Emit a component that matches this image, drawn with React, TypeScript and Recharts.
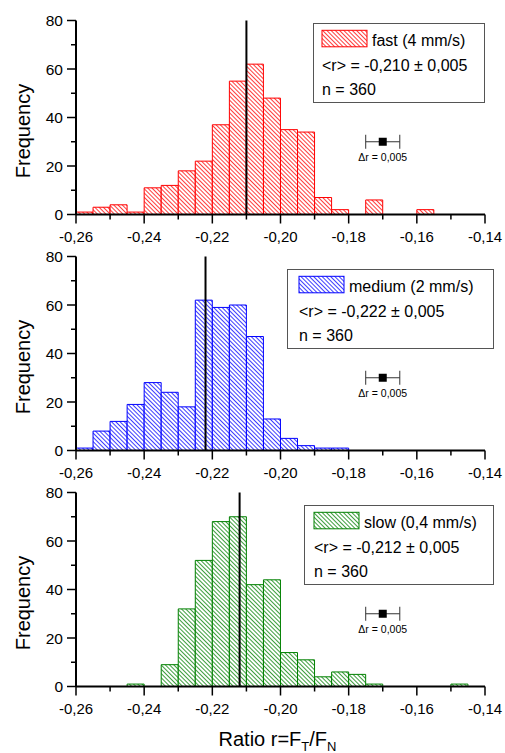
import React from 'react';
import {
  ComposedChart,
  Bar,
  XAxis,
  YAxis,
  ReferenceLine,
  Scatter,
  ErrorBar,
  Legend,
  ZAxis,
} from 'recharts';

// ---------- data ----------
const binCenters = [
  -0.2575, -0.2525, -0.2475, -0.2425, -0.2375, -0.2325, -0.2275, -0.2225,
  -0.2175, -0.2125, -0.2075, -0.2025, -0.1975, -0.1925, -0.1875, -0.1825,
  -0.1775, -0.1725, -0.1675, -0.1625, -0.1575, -0.1525, -0.1475, -0.1425,
];
const fastCounts = [1, 3, 4, 1, 11, 12, 18, 22, 37, 55, 62, 48, 35, 34, 7, 2, 0, 6, 0, 0, 2, 0, 0, 0];
const mediumCounts = [1, 8, 12, 19, 28, 24, 18, 62, 59, 60, 47, 13, 5, 2, 1, 1, 0, 0, 0, 0, 0, 0, 0, 0];
const slowCounts = [0, 0, 0, 1, 0, 9, 32, 52, 68, 70, 42, 44, 14, 11, 4, 6, 5, 1, 0, 0, 0, 0, 1, 0];

const xTicks = [-0.26, -0.25, -0.24, -0.23, -0.22, -0.21, -0.2, -0.19, -0.18, -0.17, -0.16, -0.15, -0.14];
const yTicks = [0, 10, 20, 30, 40, 50, 60, 70, 80];

const seriesNames = ['fast (4 mm/s)', 'medium (2 mm/s)', 'slow (0,4 mm/s)'];
const meanValues = [-0.21, -0.222, -0.212];
const meanLabels = ['-0,210', '-0,222', '-0,212'];
const meanError = '0,005';
const sampleSizes = [360, 360, 360];

const resolutionMarker = [{ r: -0.17, freq: 30, err: 0.005 }];
const resolutionLabel = '\u0394r = 0,005';

// ---------- styling / layout ----------
const FONT = '"Liberation Sans", Arial, Helvetica, sans-serif';
const colors = ['#ff0000', '#0000ff', '#008000'];
const keys = ['fast', 'medium', 'slow'];
const legendBoxes = [
  { left: 313, top: 22.7, width: 172, pad: 9 },
  { left: 287, top: 33.5, width: 207, pad: 12 },
  { left: 304, top: 33.5, width: 190, pad: 10 },
];
const panelTops = [0, 235.5, 471.5];
const panelHeights = [245.5, 246, 281.5];
const axisHeights = [31, 31.5, 67];

const fmtX = (v: number) => v.toFixed(2).replace('.', ',');

const XTick = (props: any) => {
  const { x, y, payload } = props;
  const v = payload.value as number;
  const major = Math.round(v * 100) % 2 === 0;
  return (
    <g>
      <line x1={x} x2={x} y1={y} y2={y + (major ? 9 : 5)} stroke="#000" strokeWidth={1.5} />
      {major && (
        <text x={x} y={y + 27.5} textAnchor="middle" fontSize={15} fontFamily={FONT} fill="#000">
          {fmtX(v)}
        </text>
      )}
    </g>
  );
};

const YTick = (props: any) => {
  const { x, y, payload } = props;
  const v = payload.value as number;
  const major = v % 20 === 0;
  return (
    <g>
      <line x1={x - (major ? 9 : 5)} x2={x} y1={y} y2={y} stroke="#000" strokeWidth={1.5} />
      {major && (
        <text x={x - 13} y={y + 5.5} textAnchor="end" fontSize={15.5} fontFamily={FONT} fill="#000">
          {v}
        </text>
      )}
    </g>
  );
};

const FreqLabel = (props: any) => {
  const vb = props.viewBox || {};
  const cx = 23;
  const cy = vb.y + vb.height / 2 + 13.5;
  return (
    <text
      x={cx}
      y={cy}
      transform={`rotate(-90, ${cx}, ${cy})`}
      textAnchor="middle"
      dominantBaseline="central"
      fontSize={20}
      fontFamily={FONT}
      fill="#000"
    >
      Frequency
    </text>
  );
};

const RatioLabel = (props: any) => {
  const vb = props.viewBox || {};
  const cx = vb.x + vb.width / 2 - 3;
  const by = vb.y + 59;
  return (
    <text x={cx} y={by} textAnchor="middle" fontSize={20} fontFamily={FONT} fill="#000">
      Ratio r=F
      <tspan fontSize={13} dy={5}>T</tspan>
      <tspan dy={-5}>/F</tspan>
      <tspan fontSize={13} dy={5}>N</tspan>
    </text>
  );
};

const MarkerShape = (props: any) => {
  const { cx, cy } = props;
  return (
    <g>
      <rect x={cx - 4} y={cy - 4} width={8} height={8} fill="#000" />
      <text x={cx} y={cy + 19.5} textAnchor="middle" fontSize={10.5} fontFamily={FONT} fill="#000">
        {resolutionLabel}
      </text>
    </g>
  );
};

const makeLegend = (i: number) => () => {
  const b = legendBoxes[i];
  const h = 80;
  return (
    <svg width={b.width} height={h} style={{ display: 'block' }}>
      <rect x={0.5} y={0.5} width={b.width - 1} height={h - 1} fill="#fff" stroke="#555" strokeWidth={1} />
      <rect
        x={b.pad}
        y={7.3}
        width={45}
        height={16.5}
        fill={`url(#hatch-${keys[i]})`}
        stroke={colors[i]}
        strokeWidth={1}
      />
      <text x={b.pad + 50} y={23.3} fontSize={16} fontFamily={FONT} fill="#000">
        {seriesNames[i]}
      </text>
      <text x={b.pad} y={47.5} fontSize={16} fontFamily={FONT} fill="#000">
        {`<r> = ${meanLabels[i]} \u00b1 ${meanError}`}
      </text>
      <text x={b.pad} y={72} fontSize={16} fontFamily={FONT} fill="#000">
        {`n = ${sampleSizes[i]}`}
      </text>
    </svg>
  );
};

const countsList = [fastCounts, mediumCounts, slowCounts];

const Panel = ({ i }: { i: number }) => {
  const data = binCenters.map((r, k) => ({ r, count: countsList[i][k] }));
  const isLast = i === 2;
  const b = legendBoxes[i];
  return (
    <ComposedChart
      width={505}
      height={panelHeights[i]}
      data={data}
      margin={{ top: 20.5, right: 20, bottom: 0, left: 0 }}
      barCategoryGap={0}
      barGap={0}
    >
      <defs>
        <pattern
          id={`hatch-${keys[i]}`}
          patternUnits="userSpaceOnUse"
          width={3}
          height={3}
          patternTransform="rotate(-45)"
        >
          <rect width={3} height={3} fill="#fff" />
          <line x1={1.5} y1={-1} x2={1.5} y2={4} stroke={colors[i]} strokeWidth={0.9} strokeOpacity={0.85} />
        </pattern>
      </defs>
      <XAxis
        dataKey="r"
        type="number"
        domain={[-0.26, -0.14]}
        ticks={xTicks}
        interval={0}
        allowDataOverflow
        height={axisHeights[i]}
        tickLine={false}
        tickSize={0}
        tickMargin={0}
        axisLine={{ stroke: '#000', strokeWidth: 2 }}
        tick={<XTick />}
        label={isLast ? { value: 'Ratio', content: RatioLabel } : undefined}
      />
      <XAxis xAxisId="m" dataKey="r" type="number" domain={[-0.26, -0.14]} allowDataOverflow hide />
      <YAxis
        type="number"
        domain={[0, 80]}
        ticks={yTicks}
        interval={0}
        width={76}
        tickLine={false}
        tickSize={0}
        tickMargin={0}
        axisLine={{ stroke: '#000', strokeWidth: 2 }}
        tick={<YTick />}
        label={{ value: 'Frequency', content: FreqLabel }}
      />
      <ZAxis range={[64, 64]} />
      <Bar
        dataKey="count"
        fill={`url(#hatch-${keys[i]})`}
        stroke={colors[i]}
        strokeWidth={1}
        isAnimationActive={false}
      />
      <ReferenceLine x={meanValues[i]} stroke="#000" strokeWidth={2} />
      <Scatter
        xAxisId="m"
        data={resolutionMarker}
        dataKey="freq"
        shape={<MarkerShape />}
        isAnimationActive={false}
      >
        <ErrorBar dataKey="err" direction="x" width={7} stroke="#333" strokeWidth={1} isAnimationActive={false} />
      </Scatter>
      <Legend
        layout="vertical"
        align="center"
        verticalAlign="middle"
        content={makeLegend(i)}
        wrapperStyle={{ left: b.left, top: b.top, width: b.width, height: 80, position: 'absolute' }}
      />
    </ComposedChart>
  );
};

export default function App() {
  return (
    <div
      style={{
        position: 'absolute',
        left: 0,
        top: 0,
        width: 505,
        height: 753,
        background: '#fff',
        fontFamily: FONT,
        overflow: 'hidden',
      }}
    >
      {[0, 1, 2].map((i) => (
        <div key={i} style={{ position: 'absolute', left: 0, top: panelTops[i] }}>
          <Panel i={i} />
        </div>
      ))}
    </div>
  );
}
